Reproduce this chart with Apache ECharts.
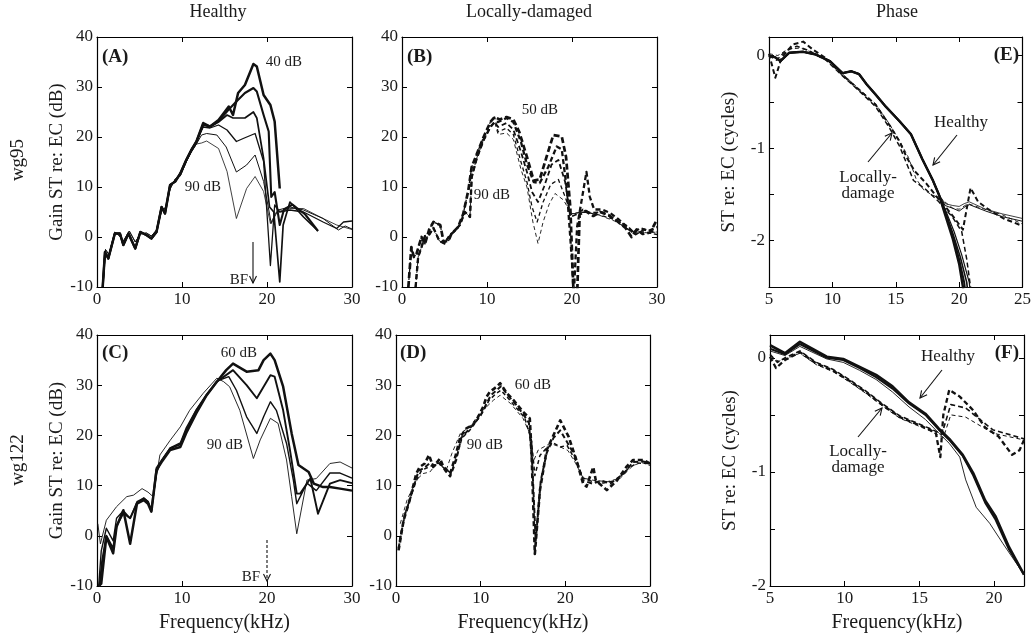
<!DOCTYPE html>
<html><head><meta charset="utf-8">
<script src="https://cdn.jsdelivr.net/npm/echarts@6/dist/echarts.min.js"></script>
<style>html,body{margin:0;padding:0;background:#fff}#c{width:1034px;height:635px}</style>
</head><body><div id="c"></div>
<script>
// ---------------- DATA (frequency kHz, value) ----------------
// Panel A: wg95 healthy gain (dB), levels 40..90 dB
const A_LOW = [[0.67,-10],[0.94,-3],[1.33,-4.3],[2.1,0.7],[2.7,0.7],[3.1,-1.6],[3.7,0.7],[4.5,-2.3],[5.1,1.0],[5.8,0.4],[6.4,-0.3],[7.0,1.0],[7.6,6.0],[8.0,4.7],[8.6,10.4],[9.2,11.1],[9.8,12.7],[10.5,15.4],[11.1,17.4],[11.7,19.1]];
const A_LOW2 = [[0.7,-10],[1.0,-2.5],[1.4,-3.5],[2.1,1.0],[2.6,0.3],[3.1,-0.8],[3.8,1.2],[4.5,-1.0],[5.1,0.6],[5.8,0.8],[6.4,0.2],[7.0,1.4],[7.6,5.2],[8.1,6.0],[8.6,9.6],[9.2,11.6],[9.8,12.2],[10.5,15.0],[11.1,17.0],[11.7,18.6]];
const A40 = [[12.5,22.8],[13.3,22.1],[14.3,23.4],[15.5,26.1],[16.0,24.4],[16.6,28.8],[17.4,30.4],[18.4,34.6],[18.8,34.1],[19.6,28.4],[20.4,26.4],[20.9,23.1],[21.5,9.7]];
const A50 = [[12.5,22.6],[13.3,22.1],[14.3,23.2],[15.5,25.5],[16.4,27.1],[17.4,28.8],[18.4,29.8],[18.8,29.1],[19.6,24.4],[20.2,21.1],[20.5,8.0],[20.9,9.0],[21.5,2.4],[22.0,5.5],[23.0,6.5],[24.5,4.5],[26.0,1.2]];
const A60 = [[12.5,22.4],[13.3,22.0],[14.3,23.0],[15.3,24.4],[16.0,23.8],[17.4,23.8],[18.4,25.0],[18.8,23.8],[19.6,15.7],[20.3,6.0],[20.8,5.0],[21.5,-9.0],[21.9,2.4],[22.7,7.0],[24.3,4.0],[26.0,1.2]];
const A70 = [[12.5,22.0],[13.3,21.8],[14.3,22.4],[15.3,21.4],[16.4,19.1],[17.2,19.7],[18.6,20.7],[19.6,15.1],[20.4,-5.7],[20.9,6.4],[21.5,5.0],[22.7,5.4],[24.3,5.0],[26.6,3.0],[28.2,1.7],[29.0,3.0],[30.0,3.2]];
const A80 = [[12.3,20.4],[12.9,20.7],[14.1,20.4],[15.2,18.0],[16.4,13.0],[17.6,14.4],[18.6,16.4],[19.6,11.1],[20.5,2.7],[21.3,5.4],[22.7,6.0],[24.3,5.4],[26.6,3.7],[28.4,1.4],[29.2,2.2],[30.0,1.6]];
const A90 = [[12.3,18.8],[12.9,19.2],[14.3,17.7],[15.3,13.1],[16.4,3.7],[17.6,9.7],[18.6,12.1],[19.6,9.1],[20.4,2.7],[21.1,5.0],[22.7,5.7],[24.3,5.7],[26.6,3.7],[28.2,2.4],[30.0,1.5]];

// Panel B: wg95 locally-damaged gain (dB), levels 50..90 dB
const B_LOW = [[0.75,-10],[1.1,-2.0],[1.4,-4.0],[1.7,-3.4],[2.3,0.0],[2.7,-1.4],[3.2,1.5],[3.7,3.0],[4.5,2.4],[4.9,-1.0],[5.5,-0.7],[5.8,0.6],[6.6,2.0],[7.2,4.6],[7.8,9.3],[8.2,14.0],[8.8,16.6],[9.6,20.0],[10.4,23.0],[10.9,24.0]];
const B_LOW2 = [[1.6,-10],[1.9,-4.0],[2.3,-2.0],[2.7,0.2],[3.2,0.5],[3.7,1.8],[4.4,-0.8],[5.0,-1.3],[5.6,0.3],[6.2,1.2],[6.8,2.4],[7.4,5.0],[8.0,4.0],[8.2,12.0],[8.8,15.8],[9.6,19.4],[10.4,22.0],[10.9,23.0]];
const B50 = [[11.5,23.5],[12.3,24.0],[13.1,23.5],[13.8,21.0],[14.7,16.0],[15.5,11.3],[16.2,11.5],[17.0,16.0],[17.8,20.4],[18.8,20.1],[19.3,16.0],[19.8,6.0],[20.2,-12],[20.6,-12],[20.9,4.5],[21.6,5.2],[22.5,4.2],[23.3,5.0],[24.3,4.4],[25.3,3.2],[26.3,1.8],[27.0,0.0],[27.6,1.5],[28.3,0.6],[29.2,0.9],[30.0,3.5]];
const B60 = [[11.3,23.0],[12.3,23.8],[13.1,23.0],[14.0,19.0],[14.7,14.5],[15.5,11.0],[16.2,10.8],[17.2,14.0],[18.2,18.1],[18.8,17.5],[19.4,9.4],[20.0,-5.0],[20.2,-12],[20.4,-12],[20.6,2.0],[21.2,8.0],[21.7,13.0],[22.1,8.0],[22.6,5.5],[23.5,5.5],[24.5,4.8],[25.5,3.5],[26.5,2.0],[27.2,0.8],[28.0,1.8],[29.0,1.2],[30.0,2.0]];
const B70 = [[11.3,22.0],[12.3,22.8],[13.1,21.5],[14.0,17.0],[14.7,13.0],[15.3,9.0],[16.0,7.0],[16.7,10.0],[17.6,14.5],[18.4,15.4],[19.2,11.0],[19.8,4.0],[20.5,4.5],[21.3,5.5],[22.2,4.8],[23.5,5.0],[25.0,3.5],[26.5,2.2],[27.5,0.5],[28.5,1.5],[30.0,1.0]];
const B80 = [[11.3,21.0],[12.3,21.8],[13.1,20.5],[14.0,15.0],[14.7,11.0],[15.3,6.0],[15.9,3.0],[16.6,7.0],[17.5,10.5],[18.4,11.5],[19.2,8.0],[19.9,4.5],[20.5,4.8],[21.5,5.0],[23.0,4.5],[25.0,3.5],[27.0,1.0],[28.5,1.0],[30.0,0.5]];
const B90 = [[11.3,20.5],[12.3,20.8],[13.1,19.5],[14.0,13.5],[14.7,10.0],[15.4,3.0],[16.0,-1.3],[16.6,3.0],[17.3,6.5],[18.0,8.7],[19.0,7.4],[19.9,4.7],[20.5,4.7],[21.5,5.0],[23.0,4.5],[25.0,3.2],[27.0,1.2],[29.0,0.8],[30.0,1.0]];

// Panel C: wg122 healthy gain (dB), levels 60..90 dB
const C60 = [[0.2,-10],[0.5,-9.5],[1.1,-0.2],[1.9,-3.5],[2.3,1.8],[3.1,5.1],[3.9,-1.6],[4.7,6.4],[5.5,7.1],[6.0,6.4],[6.4,4.8],[7.0,13.1],[7.6,14.7],[8.6,17.1],[9.8,17.7],[10.5,20.5],[11.7,24.5],[12.9,28.0],[14.1,30.7],[15.2,33.0],[16.0,34.3],[17.6,32.7],[19.0,33.0],[19.6,35.0],[20.4,36.3],[20.9,35.0],[21.9,29.7],[22.9,20.4],[23.7,14.1],[24.9,12.7],[25.5,10.4],[26.6,9.7],[27.4,9.7],[28.6,9.4],[30.0,9.0]];
const C70 = [[0.3,-10],[0.6,-5.0],[1.1,0.0],[1.9,-2.5],[2.3,2.0],[3.1,4.5],[3.9,3.5],[4.7,6.4],[5.5,7.5],[6.0,6.8],[6.4,5.0],[7.0,13.5],[7.6,15.0],[8.6,17.4],[9.8,18.2],[10.5,21.0],[11.7,25.0],[12.9,28.0],[14.1,30.7],[16.0,33.0],[17.6,30.0],[18.8,27.4],[20.4,32.0],[20.9,31.7],[21.9,25.0],[22.7,17.1],[23.5,8.4],[23.9,8.4],[25.1,11.4],[26.0,4.4],[27.4,10.4],[28.6,11.1],[30.0,10.5]];
const C80 = [[0.2,-10],[0.5,-3.0],[1.1,1.5],[1.9,-1.0],[2.3,3.5],[3.1,5.0],[3.9,3.5],[4.7,6.8],[5.5,7.5],[6.0,6.8],[6.4,5.0],[7.0,12.5],[7.6,15.0],[8.6,17.5],[9.8,18.5],[10.5,21.5],[11.7,25.2],[12.9,28.2],[14.1,30.8],[15.5,31.7],[16.4,29.0],[17.6,23.7],[18.8,20.4],[19.6,23.7],[20.4,26.7],[21.1,25.0],[22.3,18.4],[23.1,11.1],[23.5,6.4],[24.7,10.5],[25.8,9.0],[27.4,12.5],[28.6,12.5],[30.0,11.5]];
const C90 = [[0.1,2.4],[0.4,-1.6],[1.1,3.1],[2.3,5.8],[3.5,7.8],[4.3,8.1],[5.3,9.4],[6.0,8.7],[6.6,7.8],[7.4,16.1],[8.6,19.0],[9.8,21.7],[10.9,25.0],[12.5,28.4],[14.1,31.4],[14.9,30.7],[15.6,29.7],[16.8,25.0],[18.4,15.4],[19.2,19.1],[20.4,23.4],[21.3,22.4],[22.3,15.1],[22.9,7.8],[23.5,0.4],[24.7,11.1],[25.8,11.4],[27.4,14.4],[28.6,14.7],[30.0,13.5]];

// Panel D: wg122 locally-damaged gain (dB), levels 60..90 dB
const D60 = [[0.3,-2.9],[0.9,3.1],[1.5,6.4],[2.0,9.7],[2.4,12.4],[2.8,13.7],[3.4,14.4],[3.9,16.1],[4.4,13.7],[5.2,15.4],[5.6,13.7],[6.0,13.1],[6.4,12.4],[7.0,15.7],[7.6,19.7],[8.3,21.4],[9.1,22.1],[9.7,23.7],[10.3,25.7],[10.7,27.7],[11.1,28.7],[11.9,29.7],[12.3,30.4],[13.1,28.4],[13.9,27.0],[15.0,24.7],[15.8,23.4],[16.0,17.1],[16.4,-3.6],[17.0,9.1],[17.8,17.1],[19.4,23.0],[20.4,19.7],[21.3,15.1],[22.1,10.4],[22.5,9.8],[23.3,13.7],[23.6,11.0],[24.9,9.1],[26.1,11.0],[27.2,13.7],[28.0,15.1],[29.2,15.1],[30.0,14.4]];
const D70 = [[0.3,-2.5],[1.0,4.0],[1.6,7.0],[2.2,10.5],[2.7,13.0],[3.3,13.5],[4.0,14.5],[4.6,14.0],[5.2,14.5],[5.8,13.0],[6.4,11.8],[7.1,15.0],[7.7,19.5],[8.5,21.0],[9.3,22.5],[10.0,24.0],[10.6,26.0],[11.2,28.0],[11.9,29.0],[12.4,29.8],[13.2,28.0],[14.0,26.5],[15.0,24.3],[15.7,22.5],[16.1,14.0],[16.5,-1.0],[17.1,11.0],[17.8,16.5],[18.6,19.5],[19.4,21.0],[20.3,18.4],[21.2,15.7],[22.1,11.0],[23.2,10.4],[24.3,11.0],[25.3,10.4],[26.9,12.4],[28.0,14.7],[29.2,14.8],[30.0,14.4]];
const D80 = [[0.4,-1.0],[1.1,4.5],[1.8,8.0],[2.4,11.0],[3.0,13.0],[3.6,13.5],[4.3,14.0],[5.0,14.5],[5.8,13.3],[6.5,12.5],[7.2,16.0],[7.8,19.5],[8.7,21.0],[9.5,22.8],[10.3,24.8],[11.0,27.0],[11.8,28.3],[12.4,29.0],[13.3,27.3],[14.2,25.5],[15.2,23.5],[16.0,19.0],[16.4,12.0],[17.0,16.0],[17.8,17.5],[18.6,18.5],[19.4,17.7],[20.2,18.0],[21.2,15.0],[22.1,11.5],[23.2,10.8],[24.5,10.5],[26.0,11.0],[27.5,13.5],[28.5,14.5],[30.0,14.4]];
const D90 = [[0.5,2.4],[1.3,7.1],[2.4,11.1],[3.2,12.4],[4.0,12.7],[4.8,14.4],[6.0,13.4],[6.6,16.4],[7.6,20.4],[8.7,21.7],[9.9,24.4],[11.5,27.0],[12.3,28.0],[13.5,26.4],[15.0,23.4],[15.9,20.0],[16.2,14.7],[16.8,17.1],[18.2,18.4],[19.4,17.7],[20.3,17.0],[21.2,14.5],[22.1,11.5],[23.5,11.0],[25.0,10.8],[26.5,11.5],[28.0,14.0],[29.0,14.6],[30.0,14.0]];

// Panel E: wg95 phase (cycles)
const E_H_COMMON = [[5.0,0.0],[5.5,-0.02],[5.9,-0.06],[6.6,0.03],[7.7,0.04],[8.7,0.01],[9.8,-0.06],[10.8,-0.19],[11.5,-0.17],[12.1,-0.2],[12.7,-0.31],[13.4,-0.42],[14.2,-0.55],[15.3,-0.71],[16.2,-0.85],[17.1,-1.12],[17.9,-1.34],[18.4,-1.5]];
const E_H1 = [[18.9,-1.72],[19.5,-1.98],[20.0,-2.25],[20.3,-2.5],[20.5,-2.7]];
const E_H2 = [[18.9,-1.7],[19.5,-1.95],[20.0,-2.2],[20.4,-2.45],[20.6,-2.7]];
const E_H3 = [[18.9,-1.68],[19.5,-1.92],[20.1,-2.18],[20.6,-2.45],[20.8,-2.7]];
const E_H4 = [[18.9,-1.66],[19.6,-1.9],[20.2,-2.15],[20.8,-2.45],[21.0,-2.7]];
const E_H5 = [[18.9,-1.62],[19.5,-1.65],[20.0,-1.68],[20.4,-1.64],[20.8,-1.61],[22.1,-1.68],[23.4,-1.74],[25.0,-1.79]];
const E_H6 = [[18.9,-1.6],[19.5,-1.62],[20.0,-1.63],[20.4,-1.6],[20.8,-1.58],[22.1,-1.66],[23.4,-1.71],[25.0,-1.76]];
const E_D1 = [[5.0,0.02],[5.5,-0.24],[6.0,-0.02],[6.9,0.12],[7.7,0.15],[8.5,0.06],[9.5,-0.03],[10.8,-0.21],[12.1,-0.37],[13.4,-0.53],[14.5,-0.75],[15.3,-0.93],[15.9,-1.11],[16.5,-1.25],[17.4,-1.38],[18.2,-1.52],[18.9,-1.63],[19.6,-1.75],[20.3,-1.88],[20.9,-1.43],[21.5,-1.58],[22.3,-1.66],[23.5,-1.76],[25.0,-1.84]];
const E_D2 = [[5.0,0.0],[5.6,-0.05],[6.3,0.05],[7.2,0.1],[8.2,0.05],[9.5,-0.05],[10.8,-0.22],[12.1,-0.38],[13.4,-0.55],[14.5,-0.78],[15.3,-0.98],[15.9,-1.18],[16.4,-1.35],[17.4,-1.45],[18.4,-1.58],[19.5,-1.75],[20.2,-1.9],[20.6,-2.2],[21.0,-2.6]];
const E_D3 = [[5.0,0.02],[5.7,0.0],[6.5,0.07],[7.5,0.08],[8.5,0.03],[9.6,-0.04],[10.8,-0.2],[12.1,-0.36],[13.4,-0.52],[14.5,-0.74],[15.3,-0.92],[16.0,-1.1],[16.6,-1.33],[17.2,-1.45],[17.8,-1.5],[18.6,-1.55],[19.5,-1.65],[20.0,-1.66],[20.7,-1.6],[22.0,-1.66],[23.4,-1.72],[25.0,-1.82]];

// Panel F: wg122 phase (cycles)
const F_H1 = [[5.0,0.11],[6.0,0.04],[7.0,0.14],[8.8,0.01],[9.9,-0.01],[11.0,-0.08],[12.1,-0.15],[13.2,-0.25],[14.3,-0.39],[15.4,-0.49],[16.3,-0.62],[17.0,-0.71],[17.9,-0.85],[18.6,-1.01],[19.4,-1.25],[20.1,-1.39],[21.0,-1.66],[22.0,-1.9]];
const F_H2 = [[5.0,0.08],[6.0,0.03],[7.0,0.12],[8.8,0.0],[9.9,-0.02],[11.0,-0.09],[12.1,-0.17],[13.2,-0.27],[14.3,-0.4],[15.4,-0.5],[16.3,-0.63],[17.0,-0.72],[17.9,-0.86],[18.6,-1.03],[19.4,-1.27],[20.1,-1.42],[21.0,-1.68],[22.0,-1.9]];
const F_H3 = [[5.0,0.06],[6.0,0.02],[7.0,0.1],[8.8,-0.01],[9.9,-0.04],[11.0,-0.11],[12.1,-0.19],[13.2,-0.3],[14.3,-0.43],[15.4,-0.54],[16.3,-0.66],[17.0,-0.75],[17.7,-0.87],[18.1,-1.07],[18.8,-1.31],[19.7,-1.45],[20.6,-1.63],[22.0,-1.9]];
const F_D1 = [[5.0,0.01],[5.4,-0.09],[6.0,-0.02],[7.0,0.05],[8.1,-0.05],[9.2,-0.11],[10.3,-0.2],[11.4,-0.3],[12.6,-0.42],[13.7,-0.52],[14.8,-0.58],[15.7,-0.63],[16.1,-0.66],[16.4,-0.87],[16.6,-0.5],[17.0,-0.28],[17.7,-0.34],[18.6,-0.46],[19.4,-0.61],[20.3,-0.69],[21.2,-0.85],[21.7,-0.81],[22.0,-0.72]];
const F_D2 = [[5.0,0.03],[5.5,-0.04],[6.0,0.0],[7.0,0.06],[8.1,-0.04],[9.2,-0.1],[10.3,-0.19],[11.4,-0.29],[12.6,-0.41],[13.7,-0.51],[14.8,-0.57],[15.7,-0.62],[16.5,-0.67],[17.1,-0.41],[18.1,-0.44],[19.9,-0.63],[22.0,-0.71]];
const F_D3 = [[5.0,0.0],[5.6,-0.03],[6.2,0.0],[7.0,0.04],[8.1,-0.06],[9.2,-0.12],[10.3,-0.21],[11.4,-0.31],[12.6,-0.43],[13.7,-0.53],[14.8,-0.59],[15.7,-0.64],[16.6,-0.7],[17.1,-0.5],[18.1,-0.52],[19.9,-0.66],[22.0,-0.72]];

// Axis ranges / ticks
const GAIN_Y = {min:-10, max:40, interval:10};
const GAIN_X = {min:0, max:30, interval:10};
const E_X = {min:5, max:25, interval:5};
const E_Y = {min:-2.5, max:0.2, interval:0.5};
const F_X = {min:5, max:22, interval:5};
const F_Y = {min:-2, max:0.2, interval:0.5};

// ---------------- CHART ----------------
const FONT = 'Liberation Serif';
const INK = '#1a1a1a';
const grids = [
  {left:97, top:37, width:255, height:250},   // A
  {left:402, top:37, width:255, height:250},  // B
  {left:769, top:37, width:255, height:250},  // E
  {left:97, top:335, width:255, height:251},  // C
  {left:396, top:335, width:254, height:251}, // D
  {left:770, top:335, width:254, height:251}  // F
];
const xr = [GAIN_X, GAIN_X, E_X, GAIN_X, GAIN_X, F_X];
const yr = [GAIN_Y, GAIN_Y, E_Y, GAIN_Y, GAIN_Y, F_Y];
const yNames = ['Gain ST re: EC (dB)', '', 'ST re: EC (cycles)', 'Gain ST re: EC (dB)', '', 'ST re: EC (cycles)'];
const xNames = ['', '', '', 'Frequency(kHz)', 'Frequency(kHz)', 'Frequency(kHz)'];

const xAxis = [], yAxis = [];
const phaseFmt = v => (Math.abs(v - Math.round(v)) < 1e-6 ? String(Math.round(v)) : '');
const fiveFmt = v => (Math.abs(v / 5 - Math.round(v / 5)) < 1e-6 ? String(Math.round(v)) : '');
grids.forEach((g, i) => {
  const base = {
    type:'value', gridIndex:i, splitLine:{show:false},
    axisLine:{show:true, onZero:false, lineStyle:{color:'#000', width:1.2}},
    axisTick:{show:true, inside:true, length:5, lineStyle:{color:'#000', width:1}}
  };
  xAxis.push(Object.assign({}, base, xr[i], {position:'bottom',
    axisLabel:{show:true, color:INK, fontFamily:FONT, fontSize:17, margin:4,
      formatter: i === 5 ? fiveFmt : undefined},
    name:xNames[i], nameLocation:'middle', nameGap:27,
    nameTextStyle:{color:INK, fontFamily:FONT, fontSize:20}}));
  xAxis.push(Object.assign({}, base, xr[i], {position:'top', axisLabel:{show:false}}));
  yAxis.push(Object.assign({}, base, yr[i], {position:'left',
    axisLabel:{show:true, color:INK, fontFamily:FONT, fontSize:17, margin:4,
      formatter: (i === 2 || i === 5) ? phaseFmt : undefined},
    name:yNames[i], nameLocation:'middle', nameGap:(i===2||i===5)?30:26, nameRotate:90,
    nameTextStyle:{color:INK, fontFamily:FONT, fontSize:19}}));
  yAxis.push(Object.assign({}, base, yr[i], {position:'right', axisLabel:{show:false}}));
});

const series = [];
function add(gi, data, width, dash) {
  series.push({
    type:'line', xAxisIndex:gi*2, yAxisIndex:gi*2, data:data,
    showSymbol:false, symbol:'none', clip:true, animation:false, silent:true,
    lineStyle:{color:'#111', width:width, type: dash || 'solid', cap:'butt', join:'round'}
  });
}
// A
add(0, A_LOW2.concat(A90), 0.8);
add(0, A_LOW2.concat(A80), 1.0);
add(0, A_LOW.concat(A70), 1.3);
add(0, A_LOW.concat(A60), 1.7);
add(0, A_LOW.concat(A50), 2.1);
add(0, A_LOW.concat(A40), 2.5);
// B
add(1, B_LOW2.concat(B90), 0.9, [4,3]);
add(1, B_LOW.concat(B80), 1.3, [4,3]);
add(1, B_LOW2.concat(B70), 1.8, [5,3]);
add(1, B_LOW2.concat(B60), 2.3, [5,3]);
add(1, B_LOW.concat(B50), 2.7, [6,3]);
// E
add(2, E_H_COMMON.concat(E_H6), 0.8);
add(2, E_H_COMMON.concat(E_H5), 1.0);
add(2, E_H_COMMON.concat(E_H4), 1.2);
add(2, E_H_COMMON.concat(E_H3), 1.6);
add(2, E_H_COMMON.concat(E_H2), 2.0);
add(2, E_H_COMMON.concat(E_H1), 2.4);
add(2, E_D3, 0.9, [4,3]);
add(2, E_D2, 1.5, [5,3]);
add(2, E_D1, 2.0, [5,3]);
// C
add(3, C90, 0.9);
add(3, C80, 1.4);
add(3, C70, 1.9);
add(3, C60, 2.5);
// D
add(4, D90, 0.9, [4,3]);
add(4, D80, 1.5, [4,3]);
add(4, D70, 2.0, [5,3]);
add(4, D60, 2.6, [5,3]);
// F
add(5, F_H3, 0.9);
add(5, F_H2, 2.0);
add(5, F_H1, 2.6);
add(5, F_D3, 1.0, [4,3]);
add(5, F_D2, 1.6, [5,3]);
add(5, F_D1, 2.3, [5,3]);

// ---------------- ANNOTATIONS ----------------
function txt(s, x, y, size, opt) {
  opt = opt || {};
  return {type:'text', x:x, y:y, rotation:opt.rot || 0, z:100, silent:true,
    style:{text:s, fill:INK, font:(opt.bold?'bold ':'') + size + 'px "' + FONT + '"',
      align:opt.align || 'center', verticalAlign:'middle'}};
}
function arrow(x1, y1, x2, y2, dashed) {
  const a = Math.atan2(y2 - y1, x2 - x1), L = 7, W = 3.5;
  const p1 = [x2 - L*Math.cos(a) + W*Math.sin(a), y2 - L*Math.sin(a) - W*Math.cos(a)];
  const p2 = [x2 - L*Math.cos(a) - W*Math.sin(a), y2 - L*Math.sin(a) + W*Math.cos(a)];
  return [
    {type:'line', z:100, silent:true, shape:{x1:x1, y1:y1, x2:x2, y2:y2},
      style:{stroke:'#111', lineWidth:1.1, lineDash: dashed ? [3,2] : null}},
    {type:'polyline', z:100, silent:true, shape:{points:[p1, [x2, y2], p2]},
      style:{stroke:'#111', lineWidth:1.1, fill:null}}
  ];
}
const graphic = [
  txt('Healthy', 218, 12, 18), txt('Locally-damaged', 529, 12, 18), txt('Phase', 897, 12, 18),
  txt('wg95', 18, 160, 19, {rot:Math.PI/2}), txt('wg122', 18, 460, 19, {rot:Math.PI/2}),
  // A
  txt('(A)', 102, 57, 19, {bold:true, align:'left'}), txt('40 dB', 284, 62, 15), txt('90 dB', 203, 187, 15), txt('BF', 239, 280, 15),
  // B
  txt('(B)', 407, 57, 19, {bold:true, align:'left'}), txt('50 dB', 540, 110, 15), txt('90 dB', 492, 195, 15),
  // C
  txt('(C)', 102, 353, 19, {bold:true, align:'left'}), txt('60 dB', 239, 353, 15), txt('90 dB', 225, 445, 15), txt('BF', 251, 577, 15),
  // D
  txt('(D)', 400, 353, 19, {bold:true, align:'left'}), txt('60 dB', 533, 385, 15), txt('90 dB', 485, 445, 15),
  // E
  txt('(E)', 1019, 55, 19, {bold:true, align:'right'}), txt('Healthy', 961, 123, 17),
  txt('Locally-', 868, 178, 17), txt('damage', 868, 194, 17),
  // F
  txt('(F)', 1019, 353, 19, {bold:true, align:'right'}), txt('Healthy', 948, 357, 17),
  txt('Locally-', 858, 452, 17), txt('damage', 858, 468, 17)
].concat(
  arrow(253, 242, 253, 283, false),
  arrow(267, 540, 267, 581, true),
  arrow(957, 135, 933, 165, false),
  arrow(868, 162, 892, 133, false),
  arrow(942, 370, 920, 398, false),
  arrow(858, 437, 882, 408, false)
);

const chart = echarts.init(document.getElementById('c'), null, {renderer:'canvas'});
chart.setOption({
  backgroundColor:'#fff', animation:false,
  grid: grids, xAxis: xAxis, yAxis: yAxis, series: series, graphic: graphic
});
</script></body></html>
